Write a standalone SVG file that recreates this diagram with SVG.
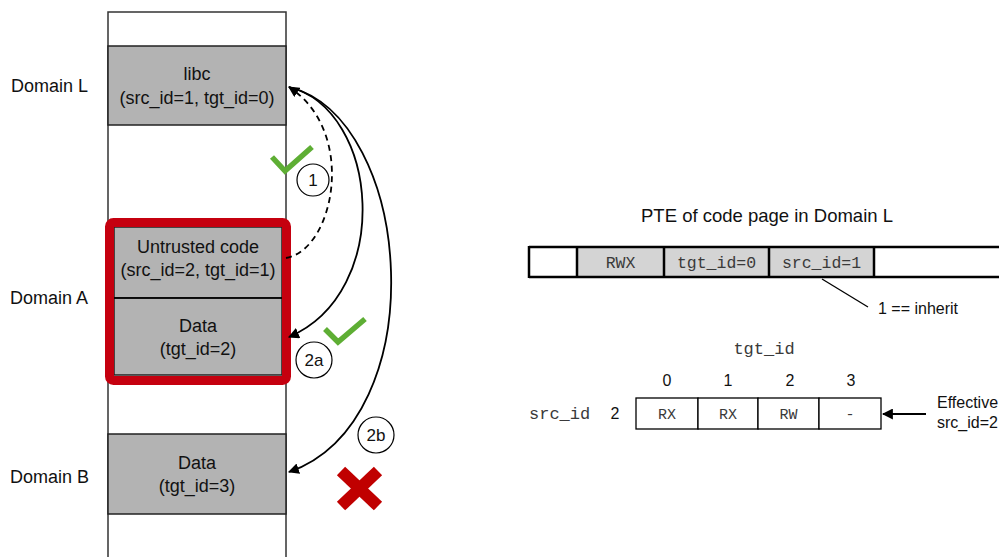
<svg xmlns="http://www.w3.org/2000/svg" width="999" height="557" viewBox="0 0 999 557">
<style>
  .sans { font-family: "Liberation Sans", Arial, sans-serif; fill: #111; }
  .mono { font-family: "Liberation Mono", "Courier New", monospace; fill: #3a3a3a; }
  .box { fill: #b3b3b3; stroke: #222; stroke-width: 1.5; }
  .conn { fill: none; stroke: #000; stroke-width: 1.8; }
  .check { fill: none; stroke: #5eae34; stroke-width: 5.5; stroke-linecap: butt; stroke-linejoin: miter; }
  .badge { fill: #fff; stroke: #000; stroke-width: 1.2; }
  .pte { stroke: #000; stroke-width: 2.5; }
  .cell { fill: #fff; stroke: #000; stroke-width: 1.3; }
</style>
<defs>
  <marker id="ah" viewBox="0 0 10 10" refX="9" refY="5" markerWidth="11" markerHeight="11" markerUnits="userSpaceOnUse" orient="auto">
    <path d="M0,0 L10,5 L0,10 z" fill="#000"/>
  </marker>
</defs>
<rect width="999" height="557" fill="#fff"/>

<g id="column">
  <rect x="108" y="12" width="178" height="560" fill="#fff" stroke="#333" stroke-width="1.5"/>
</g>

<g id="domain-labels">
  <text class="sans" x="11" y="92" font-size="18">Domain L</text>
  <text class="sans" x="10" y="304" font-size="18">Domain A</text>
  <text class="sans" x="10" y="483" font-size="18">Domain B</text>
</g>

<g id="libc">
  <rect class="box" x="108" y="46" width="178" height="79"/>
  <text class="sans" x="197" y="80" font-size="18" text-anchor="middle">libc</text>
  <text class="sans" x="197" y="104" font-size="18" text-anchor="middle">(src_id=1, tgt_id=0)</text>
</g>

<g id="domainA">
  <rect class="box" x="114" y="227" width="168" height="71" stroke="none"/>
  <rect class="box" x="114" y="298" width="168" height="77" stroke="none"/>
  <line x1="114" y1="298" x2="282" y2="298" stroke="#000" stroke-width="1.3"/>
  <rect x="109.5" y="222.5" width="177" height="158" rx="4" fill="none" stroke="#c5000f" stroke-width="9"/>
  <text class="sans" x="198" y="253" font-size="18" text-anchor="middle">Untrusted code</text>
  <text class="sans" x="198" y="276" font-size="18" text-anchor="middle">(src_id=2, tgt_id=1)</text>
  <text class="sans" x="198" y="332" font-size="18" text-anchor="middle">Data</text>
  <text class="sans" x="198" y="355" font-size="18" text-anchor="middle">(tgt_id=2)</text>
</g>

<g id="domainB-data">
  <rect class="box" x="108" y="434" width="178" height="80"/>
  <text class="sans" x="197" y="469" font-size="18" text-anchor="middle">Data</text>
  <text class="sans" x="197" y="492" font-size="18" text-anchor="middle">(tgt_id=3)</text>
</g>

<g id="connectors">
  <path class="conn" d="M286,258 C334,250 358,132 289,87" stroke-dasharray="6,4.5" marker-end="url(#ah)"/>
  <path class="conn" d="M289,87 C380,110 394,292 289,337" marker-end="url(#ah)"/>
  <path class="conn" d="M289,87 C414,118 436,420 289,472" marker-end="url(#ah)"/>
  <line x1="822" y1="279" x2="868" y2="307" stroke="#000" stroke-width="1.3"/>
  <line x1="926" y1="414" x2="883" y2="414" stroke="#000" stroke-width="2" marker-end="url(#ah)"/>
</g>

<g id="badge-1">
  <circle class="badge" cx="313" cy="180" r="16"/>
  <text class="sans" x="313" y="186" font-size="17" text-anchor="middle">1</text>
</g>
<g id="badge-2a">
  <circle class="badge" cx="314" cy="360" r="18"/>
  <text class="sans" x="314" y="366" font-size="17" text-anchor="middle">2a</text>
</g>
<g id="badge-2b">
  <circle class="badge" cx="376" cy="435" r="18"/>
  <text class="sans" x="376" y="441" font-size="17" text-anchor="middle">2b</text>
</g>

<g id="check-1">
  <polyline class="check" points="272,157 285,171 312,147"/>
</g>
<g id="check-2a">
  <polyline class="check" points="325,329 338,342 365,319"/>
</g>
<g id="deny-2b">
  <line x1="341" y1="471" x2="378" y2="506" stroke="#c00000" stroke-width="12"/>
  <line x1="378" y1="471" x2="341" y2="506" stroke="#c00000" stroke-width="12"/>
</g>

<g id="pte">
  <text class="sans" x="767" y="222" font-size="18.5" text-anchor="middle">PTE of code page in Domain L</text>
  <rect x="577" y="247" width="297" height="30" fill="#d4d4d4"/>
  <line class="pte" x1="529" y1="247" x2="1005" y2="247"/>
  <line class="pte" x1="529" y1="277" x2="1005" y2="277"/>
  <line class="pte" x1="529" y1="246" x2="529" y2="278"/>
  <line class="pte" x1="577" y1="246" x2="577" y2="278"/>
  <line class="pte" x1="664" y1="246" x2="664" y2="278"/>
  <line class="pte" x1="769" y1="246" x2="769" y2="278"/>
  <line class="pte" x1="874" y1="246" x2="874" y2="278"/>
  <text class="mono" x="620.5" y="268" font-size="16.5" text-anchor="middle">RWX</text>
  <text class="mono" x="716.5" y="268" font-size="16.5" text-anchor="middle">tgt_id=0</text>
  <text class="mono" x="821.5" y="268" font-size="16.5" text-anchor="middle">src_id=1</text>
  <text class="sans" x="878" y="314" font-size="16">1 == inherit</text>
</g>

<g id="perm-table">
  <text class="mono" x="764" y="354" font-size="17" text-anchor="middle">tgt_id</text>
  <text class="sans" x="667" y="386" font-size="16" text-anchor="middle">0</text>
  <text class="sans" x="728" y="386" font-size="16" text-anchor="middle">1</text>
  <text class="sans" x="790" y="386" font-size="16" text-anchor="middle">2</text>
  <text class="sans" x="851" y="386" font-size="16" text-anchor="middle">3</text>
  <text class="mono" x="529" y="419" font-size="17">src_id</text>
  <text class="sans" x="615" y="419" font-size="16" text-anchor="middle">2</text>
  <rect class="cell" x="636" y="398" width="62" height="31"/>
  <rect class="cell" x="698" y="398" width="60" height="31"/>
  <rect class="cell" x="758" y="398" width="61" height="31"/>
  <rect class="cell" x="819" y="398" width="62" height="31"/>
  <text class="mono" x="667" y="419" font-size="15" text-anchor="middle">RX</text>
  <text class="mono" x="728" y="419" font-size="15" text-anchor="middle">RX</text>
  <text class="mono" x="788.5" y="419" font-size="15" text-anchor="middle">RW</text>
  <text class="mono" x="850" y="419" font-size="15" text-anchor="middle">-</text>
  <text class="sans" x="937" y="408" font-size="16">Effective</text>
  <text class="sans" x="937" y="428" font-size="16">src_id=2</text>
</g>
</svg>
